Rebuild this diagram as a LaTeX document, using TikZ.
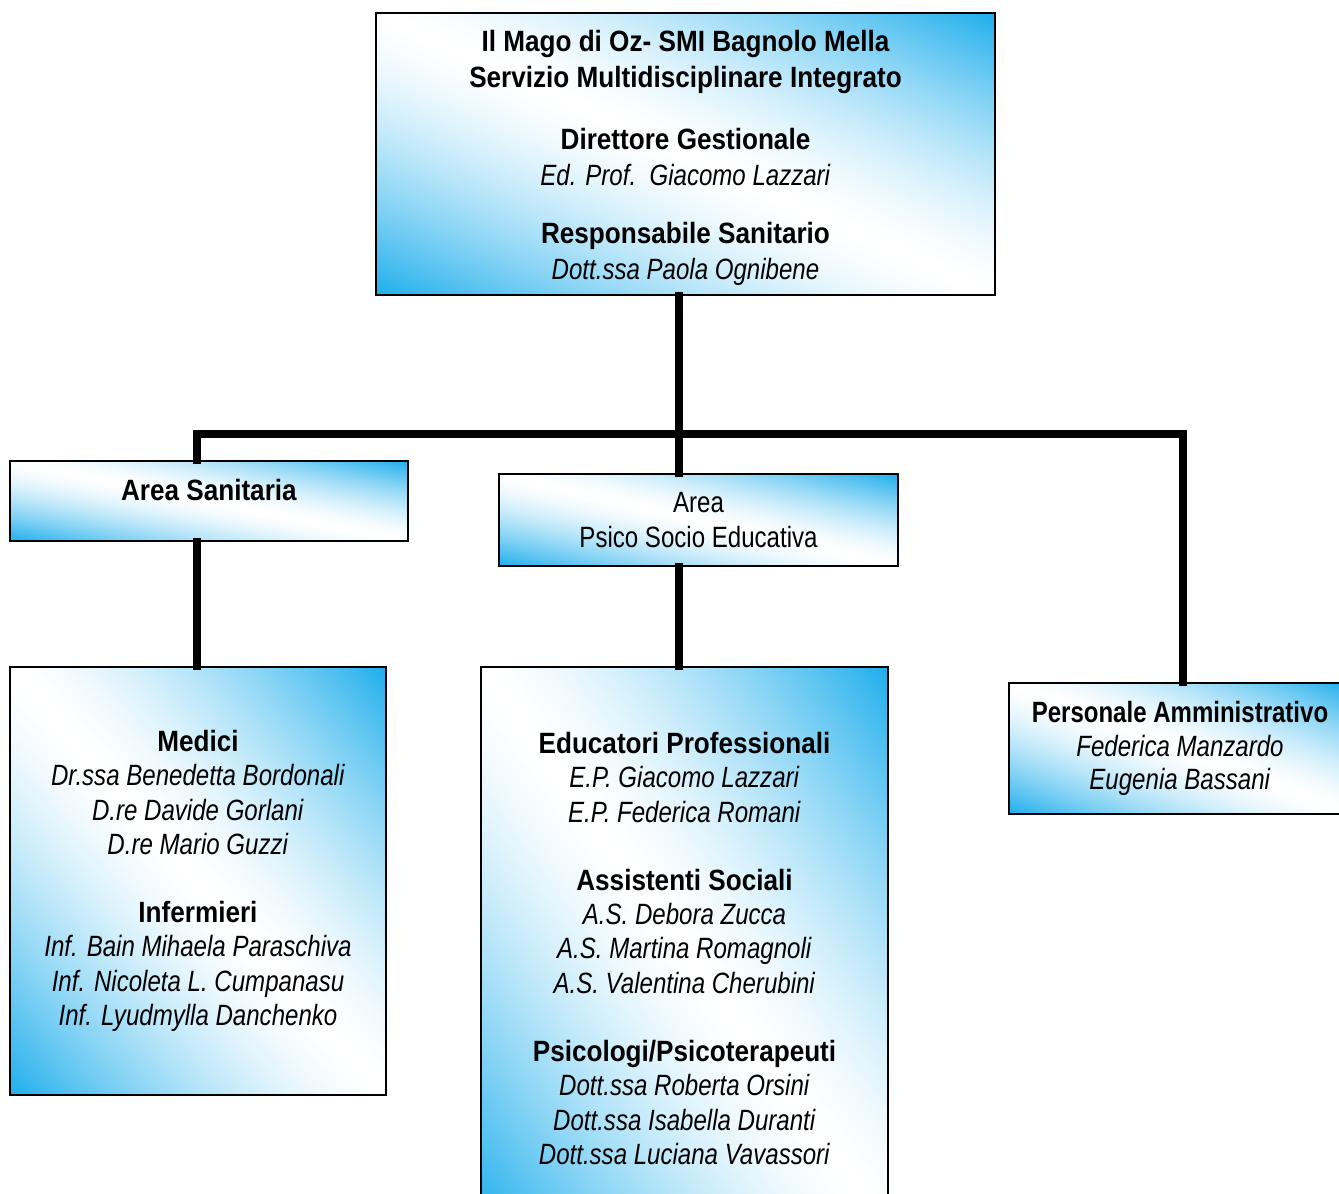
\documentclass[tikz,border=0pt]{standalone}
\usepackage{fontspec}
\usepackage{graphicx}
\setmainfont{Liberation Sans}[FakeStretch=0.82, BoldFeatures={FakeStretch=0.89}, BoldItalicFeatures={FakeStretch=0.89}]
\definecolor{sky}{RGB}{30,174,236}
% white along the falling diagonal, sky blue in the bottom-left and top-right corners
\pgfdeclarefunctionalshading{ozfill}{\pgfpointorigin}{\pgfpoint{100bp}{100bp}}{}{
  add 50 sub 100 div 2 mul 1 sub abs 1.5 exp
  dup 0.882 mul 1 exch sub
  exch dup 0.318 mul 1 exch sub
  exch 0.075 mul 1 exch sub
}
\tikzset{
  box/.style={draw=black, line width=0.8pt, shading=ozfill,
    align=center, inner sep=0pt, font=\fontsize{16.7pt}{19.6pt}\selectfont},
  link/.style={line width=4pt, line join=miter, line cap=rect}
}
\begin{document}
\begin{tikzpicture}
  \useasboundingbox (0,0) rectangle (26.78,23.86);
  \clip (0,0) rectangle (26.78,23.86);

  % junctions of the bar
  \coordinate (jL) at (3.94,15.18);
  \coordinate (jM) at (13.58,15.18);
  \coordinate (jR) at (23.66,15.18);

  \node[box, minimum width=12.38cm, minimum height=5.64cm, font=\fontsize{16.7pt}{20.3pt}\selectfont] (top) at (13.71,20.78)
    {\rule{0pt}{16.5pt}\textbf{Il Mago di Oz- SMI Bagnolo Mella}\\
     \textbf{Servizio Multidisciplinare Integrato}\\[15pt]
     \textbf{Direttore Gestionale}\\
     \textit{Ed. Prof.\ \ Giacomo Lazzari}\\[13pt]
     \textbf{Responsabile Sanitario}\\
     \textit{Dott.ssa Paola Ognibene}};

  \node[box, minimum width=7.96cm, minimum height=1.6cm, text height=0.45cm, text depth=0.45cm] (sanit) at (4.18,13.84)
    {\textbf{Area Sanitaria}};

  \node[box, minimum width=7.98cm, minimum height=1.84cm] (psico) at (13.97,13.46)
    {Area\\ Psico Socio Educativa};

  \node[box, minimum width=7.52cm, minimum height=8.56cm] (medici) at (3.96,6.24)
    {\textbf{Medici}\\
     \textit{Dr.ssa Benedetta Bordonali}\\
     \textit{D.re Davide Gorlani}\\
     \textit{D.re Mario Guzzi}\\[19pt]
     \textbf{Infermieri}\\
     \textit{Inf. Bain Mihaela Paraschiva}\\
     \textit{Inf. Nicoleta L. Cumpanasu}\\
     \textit{Inf. Lyudmylla Danchenko}};

  \node[box, minimum width=8.14cm, minimum height=11.26cm] (edu) at (13.69,4.89)
    {\textbf{Educatori Professionali}\\
     \textit{E.P. Giacomo Lazzari}\\
     \textit{E.P. Federica Romani}\\[19pt]
     \textbf{Assistenti Sociali}\\
     \textit{A.S. Debora Zucca}\\
     \textit{A.S. Martina Romagnoli}\\
     \textit{A.S. Valentina Cherubini}\\[19pt]
     \textbf{Psicologi/Psicoterapeuti}\\
     \textit{Dott.ssa Roberta Orsini}\\
     \textit{Dott.ssa Isabella Duranti}\\
     \textit{Dott.ssa Luciana Vavassori}};

  \node[box, minimum width=6.84cm, minimum height=2.62cm, font=\fontsize{16.7pt}{19pt}\selectfont] (amm) at (23.60,8.89)
    {\scalebox{0.92}[1]{\textbf{Personale Amministrativo}}\\
     \textit{Federica Manzardo}\\
     \textit{Eugenia Bassani}};

  % connectors
  \draw[link] (top.south -| jM) -- (jM);
  \draw[link] (jL |- sanit.north) -- (jL) -- (jR) -- (jR |- amm.north);
  \draw[link] (jM) -- (jM |- psico.north);
  \draw[link] (sanit.south -| jL) -- (jL |- medici.north);
  \draw[link] (psico.south -| jM) -- (jM |- edu.north);
\end{tikzpicture}
\end{document}
